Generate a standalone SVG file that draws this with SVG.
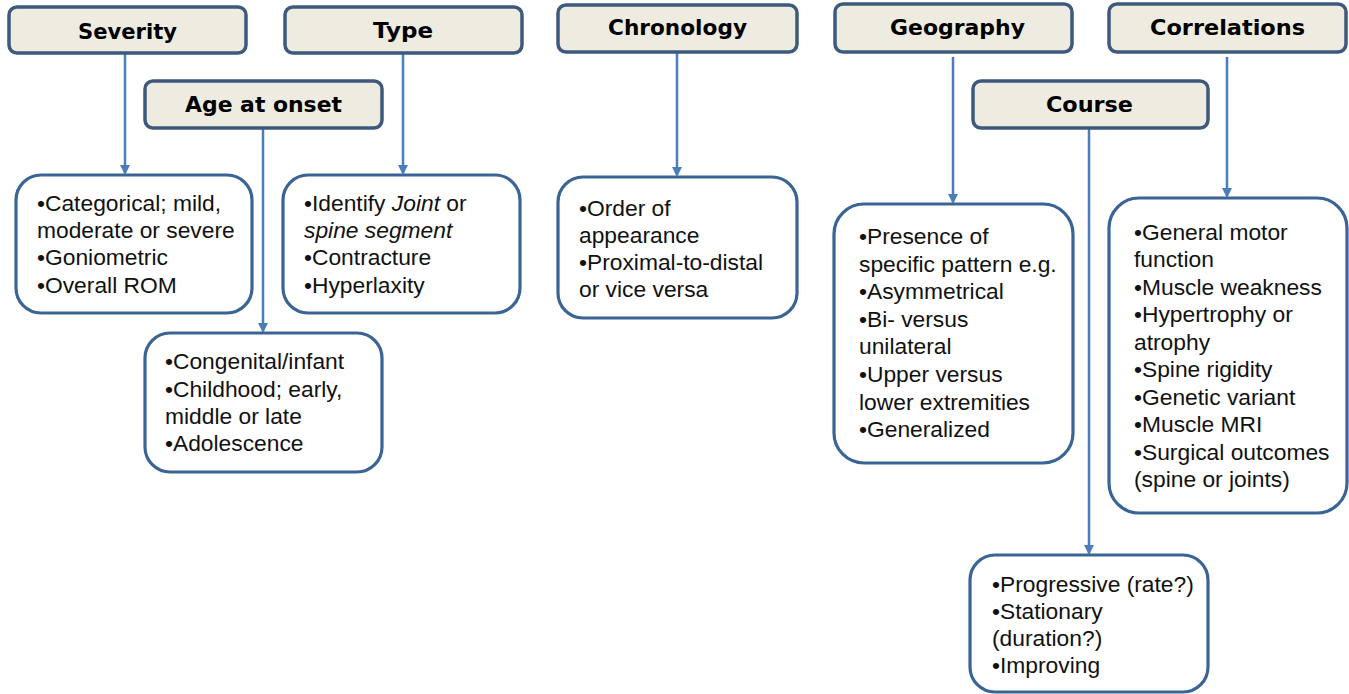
<svg xmlns="http://www.w3.org/2000/svg" width="1349" height="694" viewBox="0 0 1349 694">
<style>
.hdr rect{fill:#eeece1;stroke:#3d5a7c;stroke-width:3.5}
.hdr text{font-family:"DejaVu Sans","Liberation Sans",sans-serif;font-weight:bold;font-size:21px;fill:#000;text-anchor:middle}
.det rect{fill:#fff;stroke:#3a6494;stroke-width:3.2}
.det text{font-family:"Liberation Sans",Arial,sans-serif;font-size:22.8px;fill:#111}
.con line{stroke:#4a7ebb;stroke-width:2.5}
</style>
<defs>
<marker id="arr" markerWidth="10" markerHeight="10" refX="8" refY="5" orient="auto" markerUnits="userSpaceOnUse">
<path d="M0,0 L10,5 L0,10 z" fill="#4a7ebb"/>
</marker>
</defs>
<rect width="1349" height="694" fill="#fff"/>
<g id="connectors" class="con">
<line x1="125" y1="54" x2="125" y2="173" marker-end="url(#arr)"/>
<line x1="403" y1="54" x2="403" y2="173" marker-end="url(#arr)"/>
<line x1="263" y1="128" x2="263" y2="331" marker-end="url(#arr)"/>
<line x1="677" y1="52" x2="677" y2="175" marker-end="url(#arr)"/>
<line x1="953" y1="57" x2="953" y2="202" marker-end="url(#arr)"/>
<line x1="1227" y1="57" x2="1227" y2="196" marker-end="url(#arr)"/>
<line x1="1089" y1="128" x2="1089" y2="553" marker-end="url(#arr)"/>
</g>
<g id="severity" class="hdr"><rect x="9" y="7" width="237" height="46" rx="8"/><text x="127.5" y="39" textLength="99" lengthAdjust="spacingAndGlyphs">Severity</text></g>
<g id="type" class="hdr"><rect x="285" y="7" width="237" height="46" rx="8"/><text x="403" y="38" textLength="60" lengthAdjust="spacingAndGlyphs">Type</text></g>
<g id="age" class="hdr"><rect x="145" y="81" width="237" height="47" rx="8"/><text x="263.5" y="112" textLength="157" lengthAdjust="spacingAndGlyphs">Age at onset</text></g>
<g id="chronology" class="hdr"><rect x="558" y="5" width="239" height="47" rx="8"/><text x="677.5" y="35" textLength="139" lengthAdjust="spacingAndGlyphs">Chronology</text></g>
<g id="geography" class="hdr"><rect x="835" y="4" width="237" height="48" rx="8"/><text x="957.5" y="35" textLength="135" lengthAdjust="spacingAndGlyphs">Geography</text></g>
<g id="correlations" class="hdr"><rect x="1109" y="4" width="237" height="48" rx="8"/><text x="1227.5" y="35" textLength="155" lengthAdjust="spacingAndGlyphs">Correlations</text></g>
<g id="course" class="hdr"><rect x="973" y="81" width="235" height="47" rx="8"/><text x="1089.5" y="112" textLength="87" lengthAdjust="spacingAndGlyphs">Course</text></g>

<g id="severity-detail" class="det"><rect x="16" y="175" width="236" height="138" rx="25"/>
<text x="37" y="211">•Categorical; mild,</text>
<text x="37" y="238">moderate or severe</text>
<text x="37" y="265">•Goniometric</text>
<text x="37" y="293">•Overall ROM</text></g>
<g id="type-detail" class="det"><rect x="283" y="175" width="237" height="138" rx="25"/>
<text x="304" y="211">•Identify <tspan font-style="italic">Joint</tspan> or</text>
<text x="304" y="238" font-style="italic">spine segment</text>
<text x="304" y="265">•Contracture</text>
<text x="304" y="293">•Hyperlaxity</text></g>
<g id="age-detail" class="det"><rect x="145" y="333" width="237" height="139" rx="25"/>
<text x="165" y="369">•Congenital/infant</text>
<text x="165" y="397">•Childhood; early,</text>
<text x="165" y="424">middle or late</text>
<text x="165" y="451">•Adolescence</text></g>
<g id="chronology-detail" class="det"><rect x="558" y="177" width="239" height="141" rx="25"/>
<text x="579" y="216">•Order of</text>
<text x="579" y="243">appearance</text>
<text x="579" y="270">•Proximal-to-distal</text>
<text x="579" y="297">or vice versa</text></g>
<g id="geography-detail" class="det"><rect x="834" y="204" width="239" height="259" rx="30"/>
<text x="859" y="244">•Presence of</text>
<text x="859" y="272">specific pattern e.g.</text>
<text x="859" y="299">•Asymmetrical</text>
<text x="859" y="327">•Bi- versus</text>
<text x="859" y="354">unilateral</text>
<text x="859" y="382">•Upper versus</text>
<text x="859" y="410">lower extremities</text>
<text x="859" y="437">•Generalized</text></g>
<g id="correlations-detail" class="det"><rect x="1109" y="198" width="238" height="315" rx="30"/>
<text x="1134" y="240">•General motor</text>
<text x="1134" y="267">function</text>
<text x="1134" y="295">•Muscle weakness</text>
<text x="1134" y="322">•Hypertrophy or</text>
<text x="1134" y="350">atrophy</text>
<text x="1134" y="377">•Spine rigidity</text>
<text x="1134" y="405">•Genetic variant</text>
<text x="1134" y="432">•Muscle MRI</text>
<text x="1134" y="460">•Surgical outcomes</text>
<text x="1134" y="487">(spine or joints)</text></g>
<g id="course-detail" class="det"><rect x="970" y="555" width="238" height="137" rx="25"/>
<text x="992" y="592">•Progressive (rate?)</text>
<text x="992" y="619">•Stationary</text>
<text x="992" y="646">(duration?)</text>
<text x="992" y="673">•Improving</text></g>
</svg>
